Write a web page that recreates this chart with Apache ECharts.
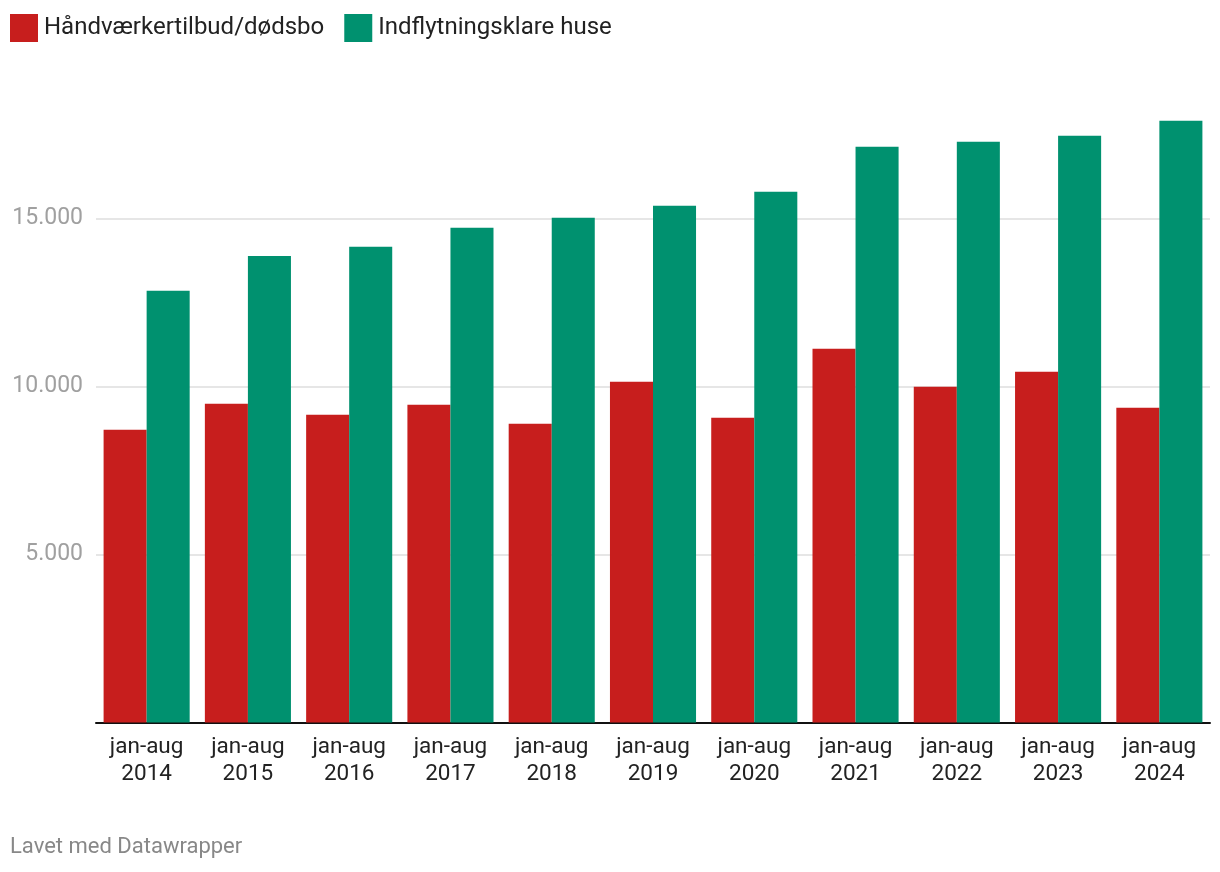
<!DOCTYPE html>
<html>
<head>
<meta charset="utf-8">
<script src="https://cdn.jsdelivr.net/npm/echarts@6/dist/echarts.min.js"></script>
<style>
html,body{margin:0;padding:0;background:#fff;}
#c{width:1220px;height:872px;}
</style>
</head>
<body>
<div id="c"></div>
<script>
const categories = ['jan-aug\n2014','jan-aug\n2015','jan-aug\n2016','jan-aug\n2017','jan-aug\n2018','jan-aug\n2019','jan-aug\n2020','jan-aug\n2021','jan-aug\n2022','jan-aug\n2023','jan-aug\n2024'];
const seriesNames = ['Håndværkertilbud/dødsbo','Indflytningsklare huse'];
const redValues = [8711, 9485, 9158, 9455, 8890, 10140, 9068, 11122, 9991, 10437, 9366];
const greenValues = [12848, 13884, 14158, 14723, 15021, 15378, 15795, 17134, 17283, 17461, 17908];
const yTicks = [5000, 10000, 15000];

const chart = echarts.init(document.getElementById('c'));
const fmt = v => String(v).replace(/\B(?=(\d{3})+(?!\d))/g, '.');
chart.setOption({
  animation: false,
  textStyle: {fontFamily: 'Roboto'},
  legend: {
    left: 10, top: 14, padding: 0, itemWidth: 28, itemHeight: 28, itemGap: 20, icon: 'rect',
    textStyle: {fontSize: 24, color: '#222', fontFamily: 'Roboto', padding: [0,0,0,1]},
    data: seriesNames
  },
  graphic: [{
    type: 'text', left: 10, top: 836,
    style: {text: 'Lavet med Datawrapper', fontSize: 22, fill: '#888', fontFamily: 'Roboto'}
  }],
  grid: {left: 96, right: 10, top: 117.7, bottom: 149.5, containLabel: false},
  xAxis: {
    type: 'category', data: categories,
    axisLine: {lineStyle: {color: '#111', width: 2}},
    axisTick: {show: false},
    axisLabel: {fontSize: 22.5, color: '#222', lineHeight: 27, margin: 11, fontFamily: 'Roboto'}
  },
  yAxis: {
    type: 'value', min: 0, max: 18000, interval: 5000,
    axisLine: {show: false}, axisTick: {show: false},
    axisLabel: {
      fontSize: 23, color: '#a0a0a0', margin: 13, fontFamily: 'Roboto',
      formatter: v => yTicks.includes(v) ? fmt(v) : ''
    },
    splitLine: {show: true, showMinLine: false, showMaxLine: false, lineStyle: {color: '#e6e6e6', width: 2}}
  },
  series: [
    {name: seriesNames[0], type: 'bar', data: redValues, itemStyle: {color: '#c71e1d'}, barGap: '0%', barCategoryGap: '15%'},
    {name: seriesNames[1], type: 'bar', data: greenValues, itemStyle: {color: '#00916f'}, barGap: '0%', barCategoryGap: '15%'}
  ]
});
</script>
</body>
</html>
